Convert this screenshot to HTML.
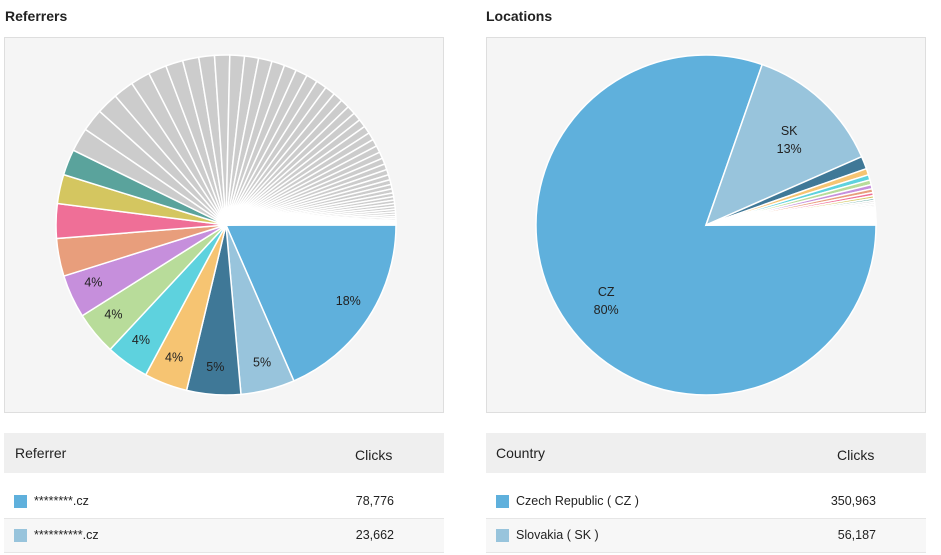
<!DOCTYPE html>
<html><head><meta charset="utf-8"><style>
body{margin:0;width:941px;height:555px;background:#fff;font-family:"Liberation Sans",sans-serif;color:#222;position:relative;overflow:hidden}
.t{position:absolute;top:8px;font-weight:bold;font-size:14px}
.box{position:absolute;top:37px;width:438px;height:374px;background:#f5f5f5;border:1px solid #dedede}
.hd{position:absolute;top:433px;width:440px;height:40px;background:#efefef;font-size:14px}
.row{position:absolute;width:440px;height:33px;font-size:12.5px;border-bottom:1px solid #e6e6e6}
.sw{position:absolute;left:10px;top:10px;width:13px;height:13px}
.nm{position:absolute;left:30px;top:9px}
.v{position:absolute;right:50px;top:9px}
</style></head><body>
<div class="t" style="left:5px">Referrers</div>
<div class="t" style="left:486px">Locations</div>
<div class="box" style="left:4px"><svg id="p1" width="438" height="374"></svg></div>
<div class="box" style="left:486px"><svg id="p2" width="438" height="374"></svg></div>

<div class="hd" style="left:4px"><span style="position:absolute;left:11px;top:12px">Referrer</span><span style="position:absolute;left:351px;top:14px">Clicks</span></div>
<div class="row" style="left:4px;top:485px"><div class="sw" style="background:#5fb0dc"></div><span class="nm">********.cz</span><span class="v">78,776</span></div>
<div class="row" style="left:4px;top:519px;background:#f7f7f7"><div class="sw" style="background:#98c4dc"></div><span class="nm">**********.cz</span><span class="v">23,662</span></div>

<div class="hd" style="left:486px"><span style="position:absolute;left:10px;top:12px">Country</span><span style="position:absolute;left:351px;top:14px">Clicks</span></div>
<div class="row" style="left:486px;top:485px"><div class="sw" style="background:#5fb0dc"></div><span class="nm">Czech Republic ( CZ )</span><span class="v">350,963</span></div>
<div class="row" style="left:486px;top:519px;background:#f7f7f7"><div class="sw" style="background:#98c4dc"></div><span class="nm">Slovakia ( SK )</span><span class="v">56,187</span></div>

<script>
const colors=["#5fb0dc","#98c4dc","#3f7897","#f6c472","#5ed2de","#b8dc9a","#c68fdc","#e89e7c","#ef6f97","#d4c660","#5aa39c"];
const refValues=[18,5,5,4,4,4,4,3.5,3.2,2.7,2.4,2.2,2.1,2.0,1.9,1.8,1.7,1.6,1.5,1.45,1.4,1.35,1.3,1.25,1.2,1.15,1.1,1.05,1.0,0.95,0.9,0.85,0.8,0.78,0.75,0.72,0.7,0.67,0.64,0.6,0.57,0.54,0.5,0.47,0.44,0.41,0.38,0.35,0.32,0.3,0.28,0.26,0.24,0.22,0.2,0.18,0.16,0.14,0.12,0.1,0.08];
const locLabels=["CZ","SK"];
const locValues=[80,13,1.2,0.6,0.5,0.45,0.4,0.35,0.3,0.25,0.2,0.18,0.17,0.16,0.15,0.14,0.14,0.13,0.13,0.12,0.12,0.11,0.11,0.1,0.1,0.1,0.09,0.09,0.08,0.08];
const NS="http://www.w3.org/2000/svg";
function pie(svg,vals,cx,cy,r,labelFn,minLabel,lr,name){
  const tot=vals.reduce((a,b)=>a+b,0);let a=0;
  vals.forEach((v,i)=>{
    const a0=a/tot*2*Math.PI;a+=v;const a1=a/tot*2*Math.PI;
    const p=document.createElementNS(NS,"path");
    const x0=cx+r*Math.cos(a0),y0=cy+r*Math.sin(a0),x1=cx+r*Math.cos(a1),y1=cy+r*Math.sin(a1);
    p.setAttribute("d",`M${cx},${cy}L${x0},${y0}A${r},${r} 0 ${a1-a0>Math.PI?1:0} 1 ${x1},${y1}Z`);
    p.setAttribute("fill",i<colors.length?colors[i]:"#cccccc");
    p.setAttribute("stroke","#fff");p.setAttribute("stroke-width","1.5");
    
    
    svg.appendChild(p);
    const pct=v/tot*100;
    if(pct>=minLabel){
      const m=(a0+a1)/2;const lines=labelFn(i,pct);
      const t=document.createElementNS(NS,"text");
      t.setAttribute("x",cx+lr*r*Math.cos(m));t.setAttribute("y",cy+lr*r*Math.sin(m));
      t.setAttribute("font-size","12.5");t.setAttribute("fill","#222");
      t.setAttribute("text-anchor","middle");
      
      
      lines.forEach((s,k)=>{const ts=document.createElementNS(NS,"tspan");ts.setAttribute("x",t.getAttribute("x"));ts.setAttribute("dy",k?"18":"0");ts.textContent=s;t.appendChild(ts);});
      svg.appendChild(t);
    }
  });
}
pie(document.getElementById("p1"),refValues,221,187,170,(i,p)=>[Math.round(p)+"%"],3.8,0.86,"referrer");
pie(document.getElementById("p2"),locValues,219,187,170,(i,p)=>[locLabels[i],Math.round(p)+"%"],10,0.72,"location");
</script>
</body></html>
